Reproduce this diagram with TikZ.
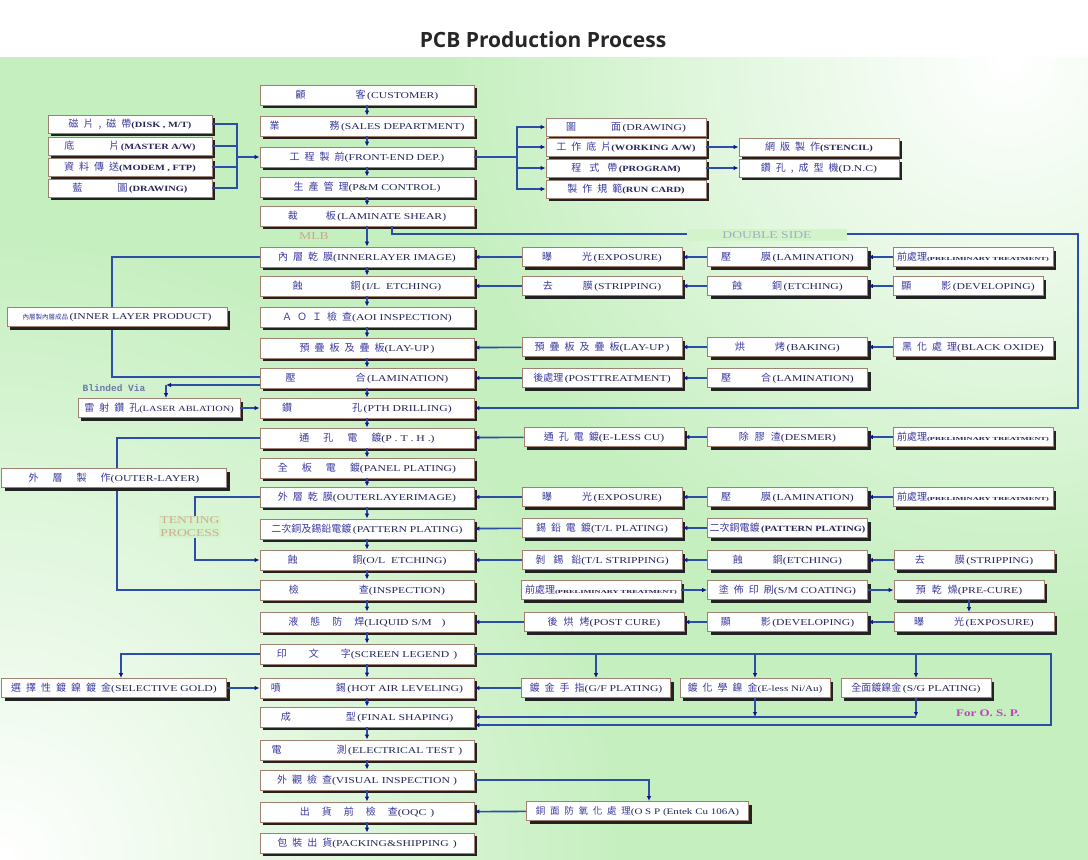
\documentclass[tikz,border=0pt]{standalone}
\usepackage{fontspec}
\usepackage{graphicx}
\setmainfont[FakeStretch=1.3]{Liberation Serif}
\newfontfamily\cjk{Noto Sans CJK TC}
\newfontfamily\cjs[LetterSpace=50]{Noto Sans CJK TC}
\newfontfamily\titlefont{Open Sans}
\newfontfamily\monof{Liberation Mono}
\usetikzlibrary{arrows.meta,shadows}
\definecolor{bg}{HTML}{C6EFC0}
\definecolor{brd}{HTML}{A08070}
\definecolor{shd}{HTML}{222222}
\definecolor{txt}{HTML}{25255A}
\definecolor{cjkc}{HTML}{3A3AA0}
\definecolor{lnc}{HTML}{2B4EA8}
\definecolor{tip}{HTML}{15158A}
\definecolor{dsbg}{HTML}{D3F4CB}
\definecolor{dsc}{HTML}{A0AEC4}
\definecolor{mlbc}{HTML}{C8A890}
\definecolor{tentc}{HTML}{D0A898}
\definecolor{ospc}{HTML}{C040C0}
\definecolor{bvc}{HTML}{6A7AA8}
\newcommand\C[1]{{\cjk\fontsize{10}{10}\selectfont\color{cjkc}#1}}
\newcommand\Cs[1]{{\cjs\fontsize{10}{10}\selectfont\color{cjkc}#1}}
\newcommand\W[1]{\hspace{#1pt}}
\newcommand\Bd[1]{{\fontsize{8}{8}\selectfont\bfseries #1}}
\newcommand\Tn[1]{\scalebox{1.4}[1]{\fontsize{4.6}{5}\selectfont\bfseries #1}}
\newcommand\PT{\C{前處理}\Tn{(PRELIMINARY TREATMENT)}}
\begin{document}
\begin{tikzpicture}[x=1pt,y=-1pt,
  bx/.style={draw=brd, fill=white, line width=0.8pt, minimum height=19pt, inner sep=1pt, text=txt,
    font=\fontsize{9}{10}\selectfont, general shadow={fill=shd, shadow xshift=3pt, shadow yshift=-3pt}},
  ln/.style={draw=lnc, line width=1.6pt},
  arr/.style={-{Latex[length=5pt,width=4.5pt,color=tip]}},
  lbl/.style={inner sep=1pt}]
\useasboundingbox (0,0) rectangle (1088,860);
% background
\fill[white] (0,0) rectangle (1088,860);
\begin{scope}
\clip (0,57) rectangle (1088,860);
\fill[bg] (0,57) rectangle (1088,860);
\shade[inner color=white, outer color=bg] (1010,60) circle (560);
\shade[inner color=white, outer color=bg] (0,860) circle (620);
\end{scope}
\node[font=\titlefont\bfseries\fontsize{21}{24}\selectfont, text=black!85] (title) at (543,40) {PCB Production Process};

% main column
\begin{scope}[every node/.style={bx, minimum width=214pt, minimum height=20pt}]
\node (m1) at (367,95) {\C{顧\W{50}客}\,(CUSTOMER)};
\node (m2) at (367,126) {\C{業\W{50}務}\,(SALES DEPARTMENT)};
\node (m3) at (367,157) {\Cs{工程製前}(FRONT-END DEP.)};
\node (m4) at (367,187) {\Cs{生產管理}(P\&M CONTROL)};
\node (m5) at (367,216) {\C{裁\W{28}板}\,(LAMINATE SHEAR)};
\node (m6) at (367,257) {\Cs{內層乾膜}(INNERLAYER IMAGE)};
\node (m7) at (367,286) {\C{蝕\W{48}銅}\,(I/L\ \ ETCHING)};
\node (m8) at (367,317) {\Cs{ＡＯＩ檢查}(AOI INSPECTION)};
\node (m9) at (367,348) {\Cs{預疊板及疊板}(LAY-UP\,)};
\node (m10) at (367,378) {\C{壓\W{60}合}\,(LAMINATION)};
\node (m11) at (367,408) {\C{鑽\W{60}孔}\,(PTH DRILLING)};
\node (m12) at (367,438) {\C{通\W{14}孔\W{14}電\W{14}鍍}(P . T . H .)};
\node (m13) at (367,468) {\C{全\W{14}板\W{14}電\W{14}鍍}(PANEL PLATING)};
\node (m14) at (367,497) {\Cs{外層乾膜}(OUTERLAYERIMAGE)};
\node (m15) at (367,529) {\C{二次銅及錫鉛電鍍}\,(PATTERN PLATING)};
\node (m16) at (367,560) {\C{蝕\W{55}銅}(O/L\ \ ETCHING)};
\node (m17) at (367,590) {\C{檢\W{60}查}(INSPECTION)};
\node (m18) at (367,622) {\C{液\W{12}態\W{12}防\W{12}焊}(LIQUID S/M\W{10})};
\node (m19) at (367,654) {\C{印\W{22}文\W{22}字}(SCREEN LEGEND\W{4})};
\node (m20) at (367,688) {\C{噴\W{55}錫}\,(HOT AIR LEVELING)};
\node (m21) at (367,717) {\C{成\W{55}型}\,(FINAL SHAPING)};
\node (m22) at (367,750) {\C{電\W{55}測}\,(ELECTRICAL TEST\W{4})};
\node (m23) at (367,780) {\Cs{外觀檢查}(VISUAL INSPECTION\W{3})};
\node (m24) at (367,812) {\C{出\W{12}貨\W{12}前\W{12}檢\W{12}查}(OQC\W{4})};
\node (m25) at (367,843) {\Cs{包裝出貨}(PACKING\&SHIPPING\W{4})};
\end{scope}

% left input group
\begin{scope}[every node/.style={bx, minimum width=164pt, minimum height=18pt}]
\node (l1) at (130,124) {\Cs{磁片,磁帶}\Bd{(DISK , M/T)}};
\node (l2) at (130,146) {\C{底\W{35}片}\,\Bd{(MASTER A/W)}};
\node (l3) at (130,167) {\Cs{資料傳送}\Bd{(MODEM , FTP)}};
\node (l4) at (130,188) {\C{藍\W{35}圖}\,\Bd{(DRAWING)}};
\end{scope}
% top right group
\begin{scope}[every node/.style={bx, minimum width=160pt, minimum height=18pt}]
\node (t1) at (626,127) {\C{圖\W{35}面}\,(DRAWING)};
\node (t2) at (626,147) {\Cs{工作底片}\Bd{(WORKING A/W)}};
\node (t3) at (626,168) {\C{程\W{8}式\W{8}帶}\,\Bd{(PROGRAM)}};
\node (t4) at (626,189) {\Cs{製作規範}\Bd{(RUN CARD)}};
\node (s1) at (819,147) {\Cs{網版製作}\Bd{(STENCIL)}};
\node (s2) at (819,168) {\Cs{鑽孔,成型機}(D.N.C)};
\end{scope}

% side columns
\begin{scope}[every node/.style={bx, minimum width=160pt}]
\node (a1) at (602,257) {\C{曝\W{30}光}\,(EXPOSURE)};
\node (a2) at (787.5,257) {\C{壓\W{30}膜}\,(LAMINATION)};
\node (a3) at (973,257) {\PT};
\node (b1) at (602,286) {\C{去\W{30}膜}\,(STRIPPING)};
\node (b2) at (787.5,286) {\C{蝕\W{30}銅}\,(ETCHING)};
\node[minimum width=150pt] (b3) at (968,286) {\C{顯\W{30}影}\,(DEVELOPING)};
\node (c1) at (602,347) {\Cs{預疊板及疊板}(LAY-UP\,)};
\node (c2) at (787.5,347) {\C{烘\W{30}烤}\,(BAKING)};
\node (c3) at (973,347) {\Cs{黑化處理}(BLACK OXIDE)};
\node (d1) at (602,378) {\C{後處理}\,(POSTTREATMENT)};
\node (d2) at (787.5,378) {\C{壓\W{30}合}\,(LAMINATION)};
\node (e1) at (604,437) {\Cs{通孔電鍍}(E-LESS CU)};
\node (e2) at (787.5,437) {\C{除\W{6}膠\W{6}渣}(DESMER)};
\node (e3) at (973,437) {\PT};
\node (f1) at (602,497) {\C{曝\W{30}光}\,(EXPOSURE)};
\node (f2) at (787.5,497) {\C{壓\W{30}膜}\,(LAMINATION)};
\node (f3) at (973,497) {\PT};
\node (g1) at (602,528) {\Cs{錫鉛電鍍}(T/L PLATING)};
\node (g2) at (787.5,528) {\C{二次銅電鍍}\,\Bd{(PATTERN PLATING)}};
\node (h1) at (602,560) {\C{剝\W{8}錫\W{8}鉛}(T/L STRIPPING)};
\node (h2) at (787.5,560) {\C{蝕\W{30}銅}(ETCHING)};
\node (h3) at (974,560) {\C{去\W{30}膜}\,(STRIPPING)};
\node (i1) at (601,590) {\PT};
\node (i2) at (787.5,590) {\Cs{塗佈印刷}(S/M COATING)};
\node[minimum width=150pt] (i3) at (969,590) {\C{預\W{6}乾\W{6}燥}(PRE-CURE)};
\node (j1) at (604,622) {\C{後\W{6}烘\W{6}烤}(POST CURE)};
\node (j2) at (787.5,622) {\C{顯\W{30}影}\,(DEVELOPING)};
\node (j3) at (974,622) {\C{曝\W{30}光}\,(EXPOSURE)};
\node[minimum width=149pt] (gf) at (596,688) {\Cs{鍍金手指}(G/F PLATING)};
\node[minimum width=150pt] (eless) at (755,688) {\Cs{鍍化學鎳金}{\fontsize{8.5}{9}\selectfont(E-less Ni/Au)}};
\node[minimum width=150pt] (sg) at (916,688) {\C{全面鍍鎳金}\,(S/G PLATING)};
\node[minimum width=222pt] (osp) at (637.5,811) {{\cjs\fontsize{9.5}{10}\selectfont\color{cjkc}銅面防氧化處理}{\fontsize{8.5}{9}\selectfont(O S P (Entek Cu 106A)}};
\end{scope}

% main column arrows
\foreach \i [evaluate=\i as \j using int(\i+1)] in {1,...,24} {\draw[ln,arr] (m\i) -- (m\j);}

% left group connectors
\coordinate (jl) at (237,157);
\draw[ln] (l1.east) -| (jl);
\draw[ln] (l4.east) -| (jl);
\draw[ln] (l2.east) -- (l2.east -| jl);
\draw[ln] (l3.east) -- (l3.east -| jl);
\draw[ln,arr] (jl) -- (m3.west);
% top right connectors
\coordinate (jr) at (517,157);
\draw[ln] (m3.east) -- (jr);
\foreach \t in {t1,t2,t3,t4} {\draw[ln,arr] (jr) |- (\t.west);}
\draw[ln,arr] (t2) -- (s1);
\draw[ln,arr] (t3) -- (s2);

% double side
\coordinate (ds) at (392,234);
\coordinate (dsr) at (1078,234);
\draw[ln,arr] (ds |- m5.south) -- (ds) -- (dsr) -- (dsr |- m11.east) -- (m11.east);
\node[fill=dsbg, text=dsc, font=\fontsize{10.5}{12}\selectfont, minimum width=160pt, inner sep=2pt] (dslab) at (767,235) {DOUBLE SIDE};
\node[text=mlbc, font=\fontsize{10.5}{12}\selectfont, lbl] (mlb) at (314,236) {MLB};

% side rows
\draw[ln,arr] (a3) -- (a2); \draw[ln,arr] (a2) -- (a1); \draw[ln,arr] (a1) -- (m6);
\draw[ln,arr] (b3) -- (b2); \draw[ln,arr] (b2) -- (b1); \draw[ln,arr] (b1) -- (m7);
\draw[ln,arr] (c3) -- (c2); \draw[ln,arr] (c2) -- (c1); \draw[ln,arr] (c1) -- (m9);
\draw[ln,arr] (d2) -- (d1); \draw[ln,arr] (d1) -- (m10);
\draw[ln,arr] (e3) -- (e2); \draw[ln,arr] (e2) -- (e1); \draw[ln,arr] (e1) -- (m12);
\draw[ln,arr] (f3) -- (f2); \draw[ln,arr] (f2) -- (f1); \draw[ln,arr] (f1) -- (m14);
\draw[ln,arr] (g2) -- (g1); \draw[ln,arr] (g1) -- (m15);
\draw[ln,arr] (h3) -- (h2); \draw[ln,arr] (h2) -- (h1); \draw[ln,arr] (h1) -- (m16);
\draw[ln,arr] (i1) -- (i2); \draw[ln,arr] (i2) -- (i3);
\draw[ln,arr] (i3.south) -- (i3.south |- j3.north);
\draw[ln,arr] (j3) -- (j2); \draw[ln,arr] (j2) -- (j1); \draw[ln,arr] (j1) -- (m18);

% inner layer product loop
\coordinate (ilx) at (112,377);
\draw[ln] (m6.west) -| (ilx) -- (ilx -| m10.west);
\node[bx, minimum width=220pt] (ilp) at (117,317) {{\cjk\fontsize{6.5}{7}\selectfont\color{cjkc}內層製內層成品}\,(INNER LAYER PRODUCT)};

% blinded via
\node[bx, minimum width=162pt] (laser) at (159,408) {\Cs{雷射鑽孔}{\fontsize{8}{9}\selectfont(LASER ABLATION)}};
\coordinate (bv) at (166,385);
\draw[ln,arr] (m10.west |- bv) -- (bv);
\draw[ln,arr] (bv) -- (bv |- laser.north);
\draw[ln,arr] (laser) -- (m11);
\node[text=bvc, font=\monof\bfseries\fontsize{9.5}{10}\selectfont, lbl] (bvlab) at (114,388) {Blinded Via};

% outer layer loop
\coordinate (olx) at (117,438);
\draw[ln] (m12.west) -- (olx) |- (m17.west);
\node[bx, minimum width=225pt] (outer) at (114,478) {\C{外\W{14}層\W{14}製\W{14}作}(OUTER-LAYER)};

% tenting
\coordinate (tx) at (195,497);
\draw[ln,arr] (m14.west) -- (tx) |- (m16.west);
\node[fill=dsbg, text=tentc, font=\fontsize{10.5}{13}\selectfont, align=center, inner sep=1pt] (tent) at (190,527) {TENTING\\PROCESS};

% screen legend branch
\node[bx, minimum width=225pt] (selgold) at (114,688) {\Cs{選擇性鍍鎳鍍金}(SELECTIVE GOLD)};
\coordinate (sgx) at (121,654);
\draw[ln,arr] (m19.west) -- (sgx) -- (sgx |- selgold.north);
\draw[ln,arr] (selgold) -- (m20);
\coordinate (sr) at (1051,654);
\coordinate (fb) at (1051,725);
\draw[ln,arr] (m19.east) -- (sr) -- (fb) -- (fb -| m21.east);
\draw[ln,arr] (gf.north |- sr) -- (gf.north);
\draw[ln,arr] (eless.north |- sr) -- (eless.north);
\draw[ln,arr] (sg.north |- sr) -- (sg.north);
\draw[ln,arr] (gf) -- (m20);
\draw[ln,arr] (eless.south) -- (eless.south |- m21.east);
\draw[ln,arr] (sg.south) -- (sg.south |- m21.east);
\draw[ln,arr] (sg.south |- m21.east) -- (m21.east);
\node[text=ospc, font=\bfseries\fontsize{10}{11}\selectfont, lbl] (osplab) at (988,713) {For O. S. P.};

% OSP branch
\coordinate (vx) at (649,780);
\draw[ln,arr] (m23.east) -- (vx) -- (vx |- osp.north);
\draw[ln,arr] (osp) -- (m24);
\end{tikzpicture}
\end{document}
